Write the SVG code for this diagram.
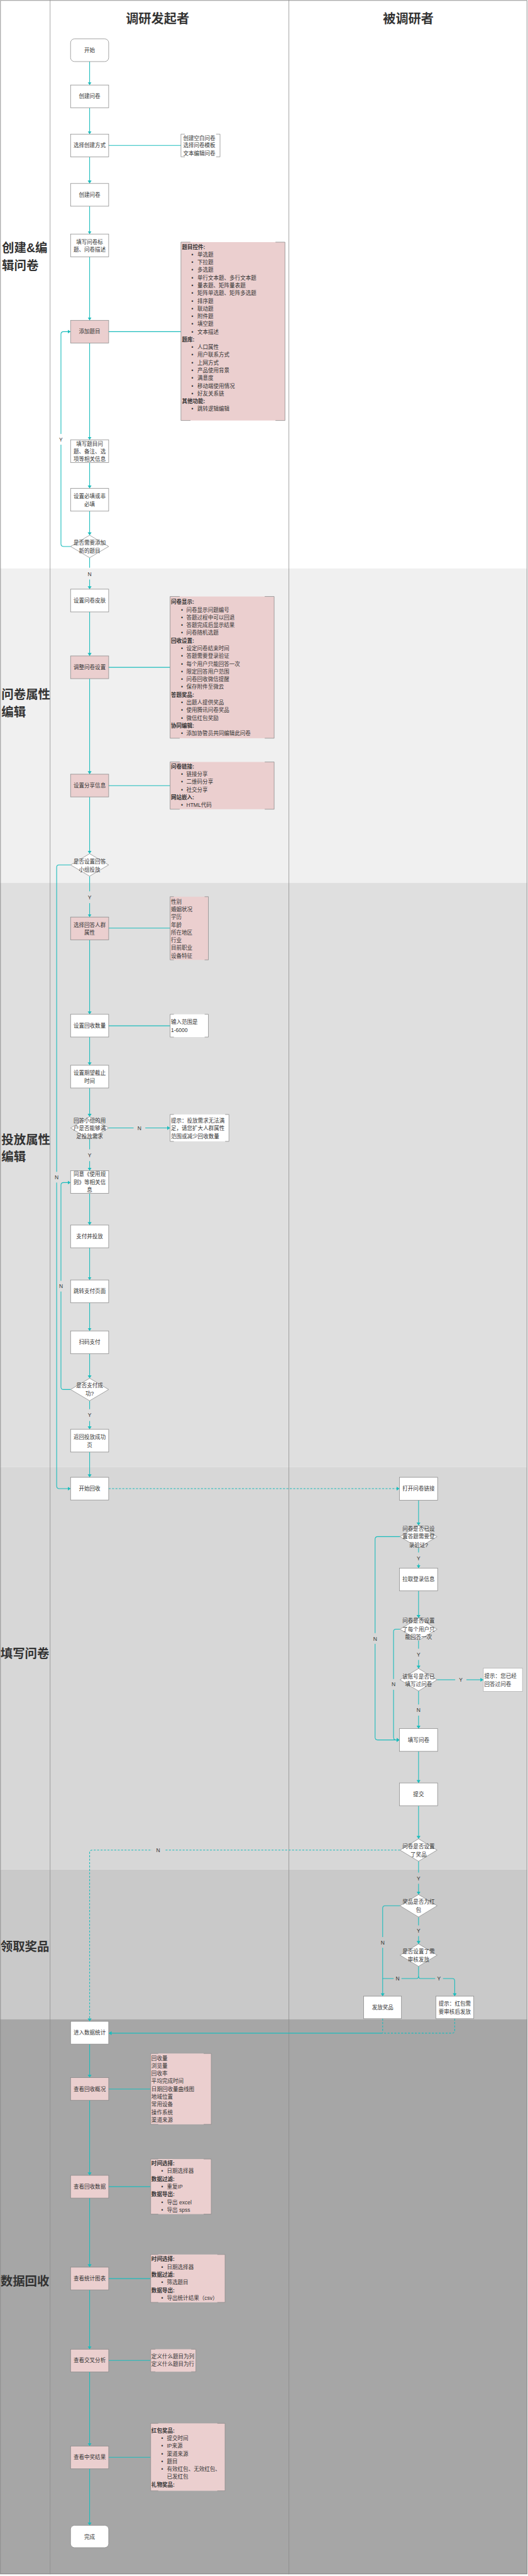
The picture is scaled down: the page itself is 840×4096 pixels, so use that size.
<svg xmlns="http://www.w3.org/2000/svg" width="840" height="4096" viewBox="0 0 840 4096">
<style>
.t{font-family:"Liberation Sans","Noto Sans CJK SC",sans-serif;font-size:11px;fill:#333;text-anchor:middle}
.l{font-family:"Liberation Sans","Noto Sans CJK SC",sans-serif;font-size:11px;fill:#333}
.h{font-weight:bold}
.big{font-family:"Liberation Sans","Noto Sans CJK SC",sans-serif;font-size:25px;font-weight:bold;fill:#333}
.ttl{font-family:"Liberation Sans","Noto Sans CJK SC",sans-serif;font-size:26px;font-weight:bold;fill:#333;text-anchor:middle}
.n{fill:#fff;stroke:#8a8a8a;stroke-width:1}
.p{fill:#ebcfcf;stroke:#8a8a8a;stroke-width:1}
.pf{fill:#ebcfcf;stroke:none}
.br{fill:none;stroke:#8a8a8a;stroke-width:1}
.c{fill:none;stroke:#1bbcbc;stroke-width:1.4}
.d{fill:none;stroke:#1bbcbc;stroke-width:1.4;stroke-dasharray:4 3}
.div{stroke:#8c8c8c;stroke-width:1}
.yn{font-family:"Liberation Sans",sans-serif;font-size:11px;fill:#333;text-anchor:middle}
</style>
<defs>
<marker id="a" viewBox="0 0 6 8" refX="6" refY="4" markerWidth="6" markerHeight="8" markerUnits="userSpaceOnUse" orient="auto"><path d="M0,0 L6,4 L0,8 z" fill="#1bbcbc"/></marker>
</defs>
<g transform="scale(0.777)">
<!-- backgrounds -->
<g id="bands">
<rect x="0" y="0" width="1080" height="1163.3" fill="#ffffff"/>
<rect x="0" y="1163.3" width="1080" height="643.4" fill="#f0f0f0"/>
<rect x="0" y="1806.7" width="1080" height="1195.3" fill="#dfdfdf"/>
<rect x="0" y="3002" width="1080" height="824" fill="#d7d7d7"/>
<rect x="0" y="3826" width="1080" height="306" fill="#c9c9c9"/>
<rect x="0" y="4132" width="1080" height="1136" fill="#a6a6a6"/>
<rect x="1" y="1" width="1078" height="5266" fill="none" stroke="#8c8c8c" stroke-width="1.2"/>
<line class="div" x1="102.6" y1="0" x2="102.6" y2="5268"/>
<line class="div" x1="591.5" y1="0" x2="591.5" y2="5268"/>
</g>
<g id="headers">
<text class="ttl" x="322.6" y="47">调研发起者</text>
<text class="ttl" x="836" y="47">被调研者</text>
<text class="big" x="4" y="516.3">创建&amp;编</text>
<text class="big" x="4" y="552.5">辑问卷</text>
<text class="big" x="3" y="1430.5">问卷属性</text>
<text class="big" x="3" y="1465.5">编辑</text>
<text class="big" x="3" y="2340.5">投放属性</text>
<text class="big" x="3" y="2375.5">编辑</text>
<text class="big" x="1" y="3392.8">填写问卷</text>
<text class="big" x="1" y="3991.8">领取奖品</text>
<text class="big" x="1" y="4677">数据回收</text>
</g>

<!-- connectors -->
<g id="connectors">
<path class="c" d="M183.5,126 V174" marker-end="url(#a)"/>
<path class="c" d="M183.5,220.5 V274.5" marker-end="url(#a)"/>
<path class="c" d="M183.5,321 V375.5" marker-end="url(#a)"/>
<path class="c" d="M222.5,297.7 H370.5"/>
<path class="c" d="M183.5,422 V479" marker-end="url(#a)"/>
<path class="c" d="M183.5,525.5 V655.5" marker-end="url(#a)"/>
<path class="c" d="M222.5,678.7 H370.5"/>
<path class="c" d="M183.5,702 V900" marker-end="url(#a)"/>
<path class="c" d="M183.5,946.5 V999.5" marker-end="url(#a)"/>
<path class="c" d="M183.5,1046 V1095.3" marker-end="url(#a)"/>
<path class="c" d="M144.5,1118.3 H130 Q124.8,1118.3 124.8,1113 V684 Q124.8,678.7 130,678.7 H144.5" marker-end="url(#a)"/>
<path class="c" d="M183.5,1141.3 V1162"/>
<path class="c" d="M183.5,1186 V1205.7" marker-end="url(#a)"/>
<path class="c" d="M183.5,1252.3 V1342.3" marker-end="url(#a)"/>
<path class="c" d="M222.5,1365.7 H348.3"/>
<path class="c" d="M183.5,1389 V1584.3" marker-end="url(#a)"/>
<path class="c" d="M222.5,1607.7 H348.3"/>
<path class="c" d="M183.5,1631 V1747" marker-end="url(#a)"/>
<path class="c" d="M183.5,1793 V1824"/>
<path class="c" d="M183.5,1848 V1876.7" marker-end="url(#a)"/>
<path class="c" d="M222.5,1899.3 H348.3"/>
<path class="c" d="M183.5,1923.3 V2075.7" marker-end="url(#a)"/>
<path class="c" d="M222.5,2099.3 H348.3"/>
<path class="c" d="M183.5,2122.3 V2180" marker-end="url(#a)"/>
<path class="c" d="M183.5,2226.7 V2285.3" marker-end="url(#a)"/>
<path class="c" d="M222.5,2308.3 H273.5"/>
<path class="c" d="M297.5,2308.3 H348.3" marker-end="url(#a)"/>
<path class="c" d="M183.5,2331.3 V2352"/>
<path class="c" d="M183.5,2376 V2395.7" marker-end="url(#a)"/>
<path class="c" d="M183.5,2442.3 V2507" marker-end="url(#a)"/>
<path class="c" d="M183.5,2553.5 V2619.3" marker-end="url(#a)"/>
<path class="c" d="M183.5,2666 V2723.6" marker-end="url(#a)"/>
<path class="c" d="M183.5,2770 V2820.5" marker-end="url(#a)"/>
<path class="c" d="M144.5,2843.5 H130 Q124.8,2843.5 124.8,2838 V2425.2 Q124.8,2420 130,2420 H144.5" marker-end="url(#a)"/>
<path class="c" d="M183.5,2866.5 V2884"/>
<path class="c" d="M183.5,2908 V2925" marker-end="url(#a)"/>
<path class="c" d="M183.5,2971.5 V3023.2" marker-end="url(#a)"/>
<path class="c" d="M144.5,1770 H121 Q116,1770 116,1775 V3041 Q116,3046.4 121,3046.4 H144.5" marker-end="url(#a)"/>
<path class="d" d="M222.5,3046.4 H818" marker-end="url(#a)"/>
<path class="c" d="M857,3070.4 V3121.6" marker-end="url(#a)"/>
<path class="c" d="M857,3167.6 V3177"/>
<path class="c" d="M857,3200 V3209" marker-end="url(#a)"/>
<path class="c" d="M819,3144.6 H773 Q768,3144.6 768,3150 V3555 Q768,3560.6 773,3560.6 H818" marker-end="url(#a)"/>
<path class="c" d="M857,3255.5 V3311" marker-end="url(#a)"/>
<path class="c" d="M857,3357 V3374"/>
<path class="c" d="M857,3397 V3414.5" marker-end="url(#a)"/>
<path class="c" d="M819,3334 H811 Q805.8,3334 805.8,3339 V3555 Q805.8,3560.6 811,3560.6 H818" marker-end="url(#a)"/>
<path class="c" d="M895,3437.5 H932"/>
<path class="c" d="M955,3437.5 H989.7" marker-end="url(#a)"/>
<path class="c" d="M857,3460.5 V3488"/>
<path class="c" d="M857,3511 V3537.5" marker-end="url(#a)"/>
<path class="c" d="M857,3584 V3648.7" marker-end="url(#a)"/>
<path class="c" d="M857,3695.3 V3763" marker-end="url(#a)"/>
<path class="d" d="M819,3786 H189 Q183.5,3786 183.5,3791 V4136.5" marker-end="url(#a)"/>
<path class="c" d="M857,3809 V3832"/>
<path class="c" d="M857,3855 V3877" marker-end="url(#a)"/>
<path class="c" d="M819,3900 H789 Q783.5,3900 783.5,3905 V4085" marker-end="url(#a)"/>
<path class="c" d="M857,3923 V3940"/>
<path class="c" d="M857,3962 V3978" marker-end="url(#a)"/>
<path class="c" d="M857,4023.6 V4044 Q857,4049 852,4049 H783.5"/>
<path class="c" d="M857,4044 Q857,4049 862,4049 H926 Q931,4049 931,4054 V4085" marker-end="url(#a)"/>
<path class="d" d="M783.5,4131 V4160.7"/>
<path class="d" d="M931,4131 V4155 Q931,4160.7 926,4160.7 H783.5"/>
<path class="c" d="M783.5,4160.7 H222.5" marker-end="url(#a)"/>
<path class="c" d="M183.5,4183 V4251.7" marker-end="url(#a)"/>
<path class="c" d="M222.5,4275 H308.5"/>
<path class="c" d="M183.5,4298 V4451.7" marker-end="url(#a)"/>
<path class="c" d="M222.5,4474.7 H308.5"/>
<path class="c" d="M183.5,4498 V4639.6" marker-end="url(#a)"/>
<path class="c" d="M222.5,4663 H308.5"/>
<path class="c" d="M183.5,4686 V4807.5" marker-end="url(#a)"/>
<path class="c" d="M222.5,4830.5 H308.5"/>
<path class="c" d="M183.5,4854 V5005.6" marker-end="url(#a)"/>
<path class="c" d="M222.5,5028.6 H308.5"/>
<path class="c" d="M183.5,5052 V5168" marker-end="url(#a)"/>
<!-- labels -->
<rect x="118.8" y="888" width="12" height="22" fill="#ffffff"/><text class="yn" x="124.8" y="903.4">Y</text>
<text class="yn" x="183.5" y="1178.3">N</text>
<text class="yn" x="183.5" y="1840">Y</text>
<text class="yn" x="285.5" y="2312.3">N</text>
<text class="yn" x="183.5" y="2368.3">Y</text>
<rect x="110" y="2398" width="12" height="22" fill="#dfdfdf"/><text class="yn" x="116" y="2413.3">N</text>
<rect x="118.8" y="2621" width="12" height="22" fill="#dfdfdf"/><text class="yn" x="124.8" y="2636">N</text>
<text class="yn" x="183.5" y="2899.7">Y</text>
<text class="yn" x="857" y="3192.6">Y</text>
<rect x="762" y="3342" width="12" height="22" fill="#d7d7d7"/><text class="yn" x="768" y="3357.6">N</text>
<text class="yn" x="857" y="3389.7">Y</text>
<rect x="799.8" y="3436" width="12" height="22" fill="#d7d7d7"/><text class="yn" x="805.8" y="3451">N</text>
<text class="yn" x="943.5" y="3441.5">Y</text>
<text class="yn" x="857" y="3503.3">N</text>
<rect x="311" y="3780" width="26" height="12" fill="#d7d7d7"/><text class="yn" x="323.7" y="3790">N</text>
<text class="yn" x="857" y="3847.7">Y</text>
<rect x="777.5" y="3964" width="12" height="22" fill="#c9c9c9"/><text class="yn" x="783.5" y="3979.7">N</text>
<text class="yn" x="857" y="3955">Y</text>
<rect x="806" y="4043" width="16" height="12" fill="#c9c9c9"/><text class="yn" x="814" y="4053">N</text>
<rect x="891" y="4043" width="16" height="12" fill="#c9c9c9"/><text class="yn" x="898.8" y="4053">Y</text>
</g>

<!-- nodes left -->
<g id="n-start"><rect class="n" x="144.5" y="79.5" width="78" height="46.5" rx="8"/><text class="t" x="183.5" y="106.75">开始</text></g>
<g id="n-create1"><rect class="n" x="144.5" y="174" width="78" height="46.5"/><text class="t" x="183.5" y="201.25">创建问卷</text></g>
<g id="n-method"><rect class="n" x="144.5" y="274.5" width="78" height="46.5"/><text class="t" x="183.5" y="301.75">选择创建方式</text></g>
<g id="n-method-opts"><path class="br" d="M378.5,274.5 H370.5 V321 H378.5 M442.5,274.5 H450.5 V321 H442.5"/><text class="l" x="375" y="286.7">创建空白问卷</text><text class="l" x="375" y="301.7">选择问卷模板</text><text class="l" x="375" y="317.3">文本编辑问卷</text></g>
<g id="n-create2"><rect class="n" x="144.5" y="375.5" width="78" height="46.5"/><text class="t" x="183.5" y="402.75">创建问卷</text></g>
<g id="n-title"><rect class="n" x="144.5" y="479" width="78" height="46.5"/><text class="t" x="183.5" y="499.5">填写问卷标</text><text class="t" x="183.5" y="515">题、问卷描述</text></g>
<g id="n-add"><rect class="p" x="144.5" y="655.5" width="78" height="46.5"/><text class="t" x="183.5" y="682.75">添加题目</text></g>
<g id="n-add-opts">
<rect class="pf" x="370.5" y="495.5" width="213" height="365"/>
<path class="br" d="M390,495.5 H370.5 V860.5 H390 M564,495.5 H583.5 V860.5 H564"/>
<text class="l h" x="372.5" y="509.1">题目控件:</text>
<g class="l"><text x="392" y="524.9">•</text><text x="392" y="540.7">•</text><text x="392" y="556.5">•</text><text x="392" y="572.3">•</text><text x="392" y="588.1">•</text><text x="392" y="603.9">•</text><text x="392" y="619.7">•</text><text x="392" y="635.5">•</text><text x="392" y="651.3">•</text><text x="392" y="667.1">•</text><text x="392" y="682.9">•</text><text x="392" y="714.5">•</text><text x="392" y="730.3">•</text><text x="392" y="746.1">•</text><text x="392" y="761.9">•</text><text x="392" y="777.7">•</text><text x="392" y="793.5">•</text><text x="392" y="809.3">•</text><text x="392" y="840.9">•</text></g>
<text class="l" x="404" y="524.9">单选题</text>
<text class="l" x="404" y="540.7">下拉题</text>
<text class="l" x="404" y="556.5">多选题</text>
<text class="l" x="404" y="572.3">单行文本题、多行文本题</text>
<text class="l" x="404" y="588.1">量表题、矩阵量表题</text>
<text class="l" x="404" y="603.9">矩阵单选题、矩阵多选题</text>
<text class="l" x="404" y="619.7">排序题</text>
<text class="l" x="404" y="635.5">联动题</text>
<text class="l" x="404" y="651.3">附件题</text>
<text class="l" x="404" y="667.1">填空题</text>
<text class="l" x="404" y="682.9">文本描述</text>
<text class="l h" x="372.5" y="698.7">题库:</text>
<text class="l" x="404" y="714.5">人口属性</text>
<text class="l" x="404" y="730.3">用户联系方式</text>
<text class="l" x="404" y="746.1">上网方式</text>
<text class="l" x="404" y="761.9">产品使用背景</text>
<text class="l" x="404" y="777.7">满意度</text>
<text class="l" x="404" y="793.5">移动端使用情况</text>
<text class="l" x="404" y="809.3">好友关系链</text>
<text class="l h" x="372.5" y="825.1">其他功能:</text>
<text class="l" x="404" y="840.9">跳转逻辑编辑</text>
</g>
<g id="n-fillq"><rect class="n" x="144.5" y="900" width="78" height="46.5"/><text class="t" x="183.5" y="912">填写题目问</text><text class="t" x="183.5" y="928">题、备注、选</text><text class="t" x="183.5" y="943.7">项等相关信息</text></g>
<g id="n-required"><rect class="n" x="144.5" y="999.5" width="78" height="46.5"/><text class="t" x="183.5" y="1019">设置必填或非</text><text class="t" x="183.5" y="1036.3">必填</text></g>
<g id="d-more"><polygon class="n" points="144.5,1118.3 183.5,1095.3 222.5,1118.3 183.5,1141.3"/><text class="t" x="183.5" y="1115">是否需要添加</text><text class="t" x="183.5" y="1131">新的题目</text></g>
<g id="n-skin"><rect class="n" x="144.5" y="1205.7" width="78" height="46.5"/><text class="t" x="183.5" y="1233">设置问卷皮肤</text></g>
<g id="n-settings"><rect class="p" x="144.5" y="1342.3" width="78" height="46.5"/><text class="t" x="183.5" y="1369.7">调整问卷设置</text></g>
<g id="n-settings-opts">
<rect class="pf" x="348.3" y="1220.7" width="213" height="290"/>
<path class="br" d="M368,1220.7 H348.3 V1510.7 H368 M542,1220.7 H561.3 V1510.7 H542"/>
<g class="l"><text x="370.5" y="1251.8">•</text><text x="370.5" y="1267.6">•</text><text x="370.5" y="1283.4">•</text><text x="370.5" y="1299.2">•</text><text x="370.5" y="1330.8">•</text><text x="370.5" y="1346.6">•</text><text x="370.5" y="1362.4">•</text><text x="370.5" y="1378.2">•</text><text x="370.5" y="1394">•</text><text x="370.5" y="1409.8">•</text><text x="370.5" y="1441.4">•</text><text x="370.5" y="1457.2">•</text><text x="370.5" y="1473">•</text><text x="370.5" y="1504.6">•</text></g>
<text class="l h" x="350" y="1236">问卷显示:</text>
<text class="l" x="381.6" y="1251.8">问卷显示问题编号</text>
<text class="l" x="381.6" y="1267.6">答题过程中可以回退</text>
<text class="l" x="381.6" y="1283.4">答题完成后显示结果</text>
<text class="l" x="381.6" y="1299.2">问卷随机选题</text>
<text class="l h" x="350" y="1315">回收设置:</text>
<text class="l" x="381.6" y="1330.8">设定问卷结束时间</text>
<text class="l" x="381.6" y="1346.6">答题需要登录验证</text>
<text class="l" x="381.6" y="1362.4">每个用户只能回答一次</text>
<text class="l" x="381.6" y="1378.2">限定回答用户范围</text>
<text class="l" x="381.6" y="1394">问卷回收微信提醒</text>
<text class="l" x="381.6" y="1409.8">保存附件至微云</text>
<text class="l h" x="350" y="1425.6">答题奖品:</text>
<text class="l" x="381.6" y="1441.4">出题人提供奖品</text>
<text class="l" x="381.6" y="1457.2">使用腾讯问卷奖品</text>
<text class="l" x="381.6" y="1473">微信红包奖励</text>
<text class="l h" x="350" y="1488.8">协同编辑:</text>
<text class="l" x="381.6" y="1504.6">添加协管员共同编辑此问卷</text>
</g>
<g id="n-share"><rect class="p" x="144.5" y="1584.3" width="78" height="46.5"/><text class="t" x="183.5" y="1611.7">设置分享信息</text></g>
<g id="n-share-opts">
<rect class="pf" x="348.3" y="1559.3" width="213" height="96.7"/>
<path class="br" d="M368,1559.3 H348.3 V1656 H368 M542,1559.3 H561.3 V1656 H542"/>
<text class="l h" x="350" y="1573">问卷链接:</text>
<g class="l"><text x="370.5" y="1588.6">•</text><text x="370.5" y="1604.2">•</text><text x="370.5" y="1619.8">•</text><text x="370.5" y="1651">•</text></g>
<text class="l" x="381.6" y="1588.6">链接分享</text>
<text class="l" x="381.6" y="1604.2">二维码分享</text>
<text class="l" x="381.6" y="1619.8">社交分享</text>
<text class="l h" x="350" y="1635.4">网站嵌入:</text>
<text class="l" x="381.6" y="1651">HTML代码</text>
</g>
<g id="d-group"><polygon class="n" points="144.5,1770 183.5,1747 222.5,1770 183.5,1793"/><text class="t" x="183.5" y="1766.7">是否设置回答</text><text class="t" x="183.5" y="1783.3">小组投放</text></g>
<g id="n-crowd"><rect class="p" x="144.5" y="1876.7" width="78" height="46.5"/><text class="t" x="183.5" y="1896.7">选择回答人群</text><text class="t" x="183.5" y="1912.7">属性</text></g>
<g id="n-crowd-opts">
<rect class="pf" x="348.3" y="1835" width="78.4" height="129.3"/>
<path class="br" d="M356,1835 H348.3 V1964.3 H356 M419,1835 H426.7 V1964.3 H419"/>
<text class="l" x="350" y="1849">性别</text>
<text class="l" x="350" y="1864.8">婚姻状况</text>
<text class="l" x="350" y="1880.6">学历</text>
<text class="l" x="350" y="1896.4">年龄</text>
<text class="l" x="350" y="1912.2">所在地区</text>
<text class="l" x="350" y="1928">行业</text>
<text class="l" x="350" y="1943.8">目前职业</text>
<text class="l" x="350" y="1959.6">设备特征</text>
</g>
<g id="n-count"><rect class="n" x="144.5" y="2075.7" width="78" height="46.5"/><text class="t" x="183.5" y="2103">设置回收数量</text></g>
<g id="n-count-opts"><rect x="348.3" y="2075.7" width="78.4" height="46.6" fill="#fff"/><path class="br" d="M356,2075.7 H348.3 V2122.3 H356 M419,2075.7 H426.7 V2122.3 H419"/><text class="l" x="350" y="2095.7">输入范围是</text><text class="l" x="350" y="2111.7">1-6000</text></g>
<g id="n-deadline"><rect class="n" x="144.5" y="2180" width="78" height="46.5"/><text class="t" x="183.5" y="2200">设置期望截止</text><text class="t" x="183.5" y="2216.3">时间</text></g>
<g id="d-meet"><polygon class="n" points="144.5,2308.3 183.5,2285.3 222.5,2308.3 183.5,2331.3"/><text class="t" x="183.5" y="2296.7">回答小组的用</text><text class="t" x="183.5" y="2313">户是否能够满</text><text class="t" x="183.5" y="2329">足投放需求</text></g>
<g id="n-tip1"><rect x="348.3" y="2280.7" width="120.5" height="55" fill="#fff"/><path class="br" d="M356,2280.7 H348.3 V2335.7 H356 M461,2280.7 H468.8 V2335.7 H461"/><text class="l" x="350" y="2296.7">提示：投放需求无法满</text><text class="l" x="350" y="2313.3">足，请您扩大人群属性</text><text class="l" x="350" y="2329">范围或减少回收数量</text></g>
<g id="n-agree"><rect class="n" x="144.5" y="2395.7" width="78" height="46.5"/><text class="t" x="183.5" y="2407.3">同意《使用规</text><text class="t" x="183.5" y="2424">则》等相关信</text><text class="t" x="183.5" y="2439">息</text></g>
<g id="n-pay"><rect class="n" x="144.5" y="2507" width="78" height="46.5"/><text class="t" x="183.5" y="2534.3">支付并投放</text></g>
<g id="n-paypage"><rect class="n" x="144.5" y="2619.3" width="78" height="46.5"/><text class="t" x="183.5" y="2646.6">跳转支付页面</text></g>
<g id="n-scan"><rect class="n" x="144.5" y="2723.6" width="78" height="46.5"/><text class="t" x="183.5" y="2750.8">扫码支付</text></g>
<g id="d-paid"><polygon class="n" points="144.5,2843.5 183.5,2820.5 222.5,2843.5 183.5,2866.5"/><text class="t" x="183.5" y="2839.7">是否支付成</text><text class="t" x="183.5" y="2855.8">功?</text></g>
<g id="n-success"><rect class="n" x="144.5" y="2925" width="78" height="46.5"/><text class="t" x="183.5" y="2945">返回投放成功</text><text class="t" x="183.5" y="2961">页</text></g>
<g id="n-collect"><rect class="n" x="144.5" y="3023.2" width="78" height="46.5"/><text class="t" x="183.5" y="3050.4">开始回收</text></g>

<!-- right column -->
<g id="n-open"><rect class="n" x="818" y="3023.2" width="78" height="47"/><text class="t" x="857" y="3050.4">打开问卷链接</text></g>
<g id="d-login"><polygon class="n" points="819,3144.6 857,3121.6 895,3144.6 857,3167.6"/><text class="t" x="857" y="3132.6">问卷是否已设</text><text class="t" x="857" y="3148.6">置答题需要登</text><text class="t" x="857" y="3165.4">录验证?</text></g>
<g id="n-pull"><rect class="n" x="818" y="3209" width="78" height="46.5"/><text class="t" x="857" y="3236">拉取登录信息</text></g>
<g id="d-once"><polygon class="n" points="819,3334 857,3311 895,3334 857,3357"/><text class="t" x="857" y="3321">问卷是否设置</text><text class="t" x="857" y="3338">了每个用户只</text><text class="t" x="857" y="3354">能回答一次</text></g>
<g id="d-filled"><polygon class="n" points="819,3437.5 857,3414.5 895,3437.5 857,3460.5"/><text class="t" x="857" y="3434.4">该账号是否已</text><text class="t" x="857" y="3450.4">填写过问卷</text></g>
<g id="n-tip2"><rect x="989.7" y="3413.6" width="80" height="47.8" fill="#fff" stroke="#b0b0b0" stroke-width="1"/><text class="l" x="991.7" y="3434">提示：您已经</text><text class="l" x="991.7" y="3450">回答过问卷</text></g>
<g id="n-fill"><rect class="n" x="818" y="3537.5" width="78" height="46.5"/><text class="t" x="857" y="3565">填写问卷</text></g>
<g id="n-submit"><rect class="n" x="818" y="3648.7" width="78" height="46.5"/><text class="t" x="857" y="3676">提交</text></g>
<g id="d-prize"><polygon class="n" points="819,3786 857,3763 895,3786 857,3809"/><text class="t" x="857" y="3782.4">问卷是否设置</text><text class="t" x="857" y="3799">了奖品</text></g>
<g id="d-red"><polygon class="n" points="819,3900 857,3877 895,3900 857,3923"/><text class="t" x="857" y="3896">奖品是否为红</text><text class="t" x="857" y="3913">包</text></g>
<g id="d-audit"><polygon class="n" points="819,4001 857,3978 895,4001 857,4024"/><text class="t" x="857" y="3997.6">是否设置了需</text><text class="t" x="857" y="4014.5">审核发放</text></g>
<g id="n-give"><rect class="n" x="744.5" y="4085" width="77.5" height="46"/><text class="t" x="783.5" y="4112">发放奖品</text></g>
<g id="n-tip3"><rect class="n" x="892.5" y="4085" width="77.5" height="46"/><text class="t" x="931" y="4104.7">提示：红包需</text><text class="t" x="931" y="4121.3">要审核后发放</text></g>

<!-- data -->
<g id="n-stats"><rect class="n" x="144.5" y="4136.5" width="78" height="46.5"/><text class="t" x="183.5" y="4164">进入数据统计</text></g>
<g id="n-overview"><rect class="p" x="144.5" y="4251.7" width="78" height="46.5"/><text class="t" x="183.5" y="4279">查看回收概况</text></g>
<g id="n-overview-opts">
<rect class="pf" x="308.5" y="4202.3" width="124" height="145"/>
<path class="br" d="M324,4202.3 H308.5 V4347.3 H324 M417,4202.3 H432.5 V4347.3 H417"/>
<text class="l" x="310" y="4215.7">回收量</text>
<text class="l" x="310" y="4231.5">浏览量</text>
<text class="l" x="310" y="4247.3">回收率</text>
<text class="l" x="310" y="4263.1">平均完成时间</text>
<text class="l" x="310" y="4278.9">日期回收量曲线图</text>
<text class="l" x="310" y="4294.7">地域位置</text>
<text class="l" x="310" y="4310.5">常用设备</text>
<text class="l" x="310" y="4326.3">操作系统</text>
<text class="l" x="310" y="4342.1">渠道来源</text>
</g>
<g id="n-data"><rect class="p" x="144.5" y="4451.7" width="78" height="46.5"/><text class="t" x="183.5" y="4478.7">查看回收数据</text></g>
<g id="n-data-opts">
<rect class="pf" x="308.5" y="4418.3" width="124" height="112.7"/>
<path class="br" d="M324,4418.3 H308.5 V4531 H324 M417,4418.3 H432.5 V4531 H417"/>
<g class="l"><text x="330" y="4447.1">•</text><text x="330" y="4478.7">•</text><text x="330" y="4510.3">•</text><text x="330" y="4526.1">•</text></g>
<text class="l h" x="310" y="4431.3">时间选择:</text>
<text class="l" x="341.7" y="4447.1">日期选择器</text>
<text class="l h" x="310" y="4462.9">数据过滤:</text>
<text class="l" x="341.7" y="4478.7">重复IP</text>
<text class="l h" x="310" y="4494.5">数据导出:</text>
<text class="l" x="341.7" y="4510.3">导出 excel</text>
<text class="l" x="341.7" y="4526.1">导出 spss</text>
</g>
<g id="n-chart"><rect class="p" x="144.5" y="4639.6" width="78" height="46.5"/><text class="t" x="183.5" y="4667">查看统计图表</text></g>
<g id="n-chart-opts">
<rect class="pf" x="308.5" y="4613.6" width="152.3" height="98"/>
<path class="br" d="M324,4613.6 H308.5 V4711.6 H324 M445,4613.6 H460.8 V4711.6 H445"/>
<g class="l"><text x="330" y="4643.2">•</text><text x="330" y="4674.8">•</text><text x="330" y="4706.4">•</text></g>
<text class="l h" x="310" y="4627.4">时间选择:</text>
<text class="l" x="341.7" y="4643.2">日期选择器</text>
<text class="l h" x="310" y="4659">数据过滤:</text>
<text class="l" x="341.7" y="4674.8">筛选题目</text>
<text class="l h" x="310" y="4690.6">数据导出:</text>
<text class="l" x="341.7" y="4706.4">导出统计结果（csv）</text>
</g>
<g id="n-cross"><rect class="p" x="144.5" y="4807.5" width="78" height="46.5"/><text class="t" x="183.5" y="4834.5">查看交叉分析</text></g>
<g id="n-cross-opts">
<rect class="pf" x="308.5" y="4807.5" width="92.5" height="46"/>
<path class="br" d="M318,4807.5 H308.5 V4853.5 H318 M391.5,4807.5 H401 V4853.5 H391.5"/>
<text class="l" x="310" y="4826.4">定义什么题目为列</text>
<text class="l" x="310" y="4842.2">定义什么题目为行</text>
</g>
<g id="n-win"><rect class="p" x="144.5" y="5005.6" width="78" height="46.5"/><text class="t" x="183.5" y="5032.6">查看中奖结果</text></g>
<g id="n-win-opts">
<rect class="pf" x="308.5" y="4959.2" width="152.3" height="138"/>
<path class="br" d="M324,4959.2 H308.5 V5097.2 H324 M445,4959.2 H460.8 V5097.2 H445"/>
<g class="l"><text x="330" y="4993.5">•</text><text x="330" y="5009.3">•</text><text x="330" y="5025.1">•</text><text x="330" y="5040.9">•</text><text x="330" y="5056.7">•</text></g>
<text class="l h" x="310" y="4977.7">红包奖品:</text>
<text class="l" x="341.7" y="4993.5">提交时间</text>
<text class="l" x="341.7" y="5009.3">IP来源</text>
<text class="l" x="341.7" y="5025.1">渠道来源</text>
<text class="l" x="341.7" y="5040.9">题目</text>
<text class="l" x="341.7" y="5056.7">有效红包、无效红包、</text>
<text class="l" x="341.7" y="5072.5">已发红包</text>
<text class="l h" x="310" y="5088.3">礼物奖品:</text>
</g>
<g id="n-end"><rect class="n" x="144.5" y="5168" width="78" height="45.5" rx="8"/><text class="t" x="183.5" y="5195">完成</text></g>
</g>
</svg>
